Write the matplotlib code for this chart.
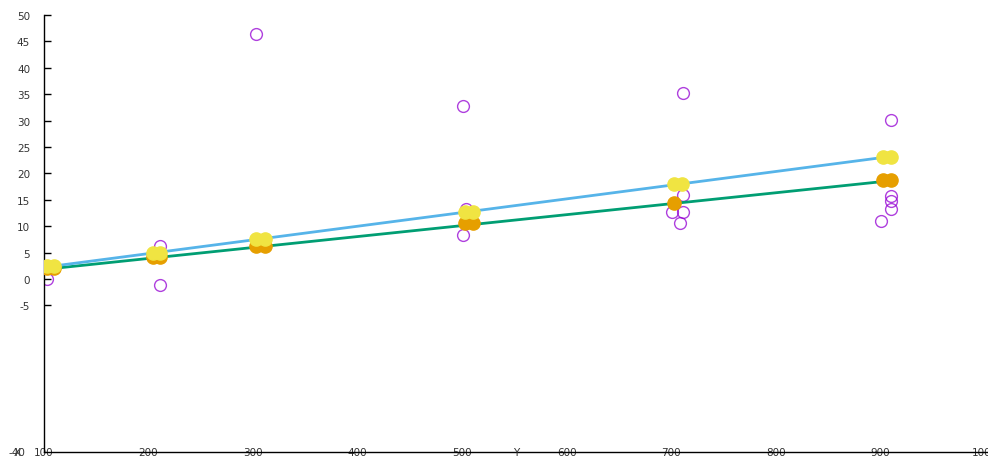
import numpy as np
import matplotlib.pyplot as plt

plt.rcParams["axes.unicode_minus"] = False

# observed points (open circles)
obs_x = [103, 211, 211, 303, 501, 504, 501, 711, 711, 701, 711, 708, 910, 910, 910, 910, 901]
obs_y = [0.0, 6.2, -1.1, 46.4, 32.8, 13.2, 8.3, 35.2, 15.9, 12.7, 12.7, 10.6, 30.1, 15.7, 14.8, 13.3, 11.0]

# fitted values, first model (orange) and second model (yellow)
fit1_x = [103, 110, 204, 211, 303, 311, 503, 510, 703, 903, 910]
fit1_y = [2.0, 2.0, 4.2, 4.2, 6.3, 6.3, 10.6, 10.6, 14.4, 18.7, 18.7]
fit2_x = [103, 110, 204, 211, 303, 311, 503, 510, 703, 710, 903, 910]
fit2_y = [2.4, 2.4, 5.0, 5.0, 7.6, 7.6, 12.7, 12.7, 18.0, 18.0, 23.1, 23.1]

# regression lines
line1_x = [100, 910]
line1_y = [1.8, 18.6]
line2_x = [100, 910]
line2_y = [2.2, 23.2]

xticks = [100, 200, 300, 400, 500, 600, 700, 800, 900, 1000]
yticks = [-5, 0, 5, 10, 15, 20, 25, 30, 35, 40, 45, 50]

fig = plt.figure(figsize=(9.88, 4.6), dpi=100)
ax = fig.add_axes([44 / 988, 7 / 460, 1 - 44 / 988, 437 / 460])

ax.plot(obs_x, obs_y, "o", mfc="none", mec="#9400d3", mew=1.0, ms=8.5, alpha=0.75, zorder=2)
ax.plot(line1_x, line1_y, "-", color="#009e73", lw=2.0, zorder=3)
ax.plot(line2_x, line2_y, "-", color="#56b4e9", lw=2.0, zorder=3)
ax.plot(fit1_x, fit1_y, "o", color="#e69f00", mec="#e69f00", ms=9.5, zorder=4)
ax.plot(fit2_x, fit2_y, "o", color="#f0e442", mec="#f0e442", ms=9.5, zorder=5)

ax.set_xlim(100, 1003)
ax.set_ylim(-32.8, 50)
ax.set_xticks(xticks)
ax.set_yticks(yticks)

for s in ["top", "right"]:
    ax.spines[s].set_visible(False)
for s in ["left", "bottom"]:
    ax.spines[s].set_linewidth(1.0)
    ax.spines[s].set_color("black")

ax.tick_params(axis="y", direction="in", length=5, width=1, pad=10,
               labelsize=7.5, labelcolor="#333333")
ax.tick_params(axis="x", length=0, pad=0, labelsize=7.5, labelcolor="#333333")
for lab in ax.get_xticklabels():
    lab.set_va("center")

ax.text(0.5, 0, "Y", transform=ax.transAxes, ha="center", va="center",
        fontsize=7.5, color="#333333")
# y-axis label sits on top of the lowest tick label
fig.text(25 / 988, 7 / 460, "-40", ha="right", va="center", fontsize=7.5, color="#333333")
fig.text(17 / 988, 7 / 460, "X", ha="center", va="center", fontsize=7.5, color="#333333")

fig.savefig("out.png", dpi=100)
